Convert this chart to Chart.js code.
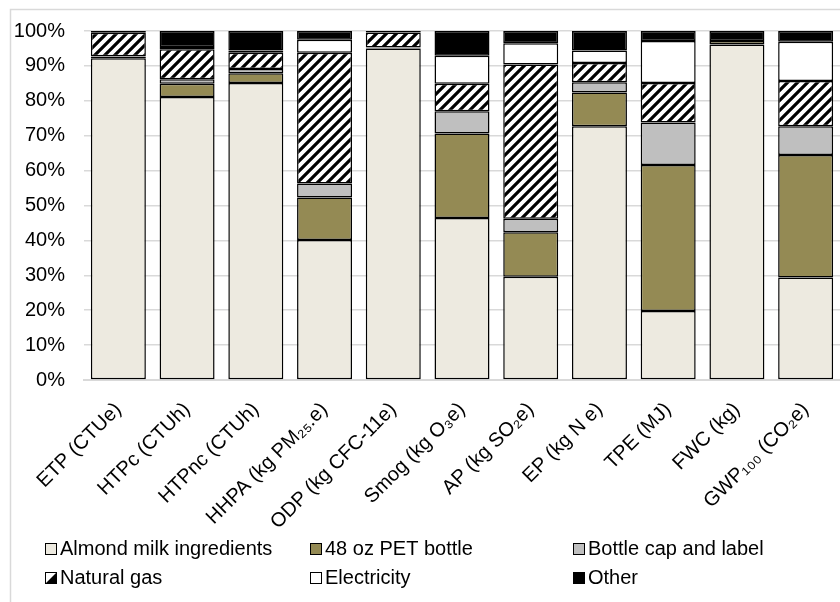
<!DOCTYPE html>
<html>
<head>
<meta charset="utf-8">
<script src="https://cdn.jsdelivr.net/npm/chart.js@4.4.1/dist/chart.umd.min.js"></script>
<style>
  html, body { margin: 0; padding: 0; background: #ffffff; }
  #wrap { width: 840px; height: 602px; position: relative; }
</style>
</head>
<body>
<div id="wrap"><canvas id="chart" width="840" height="602"></canvas></div>
<script>
// Impact categories (life-cycle indicators)
const categories = [
  'ETP (CTUe)', 'HTPc (CTUh)', 'HTPnc (CTUh)', 'HHPA (kg PM\u2082\u2085.e)',
  'ODP (kg CFC-11e)', 'Smog (kg O\u2083e)', 'AP (kg SO\u2082e)', 'EP (kg N e)',
  'TPE (MJ)', 'FWC (kg)', 'GWP\u2081\u2080\u2080 (CO\u2082e)'
];

// Share of each life-cycle stage, percent
const almondIngredients = [92.2, 81.1, 85.1, 40.1, 95.0, 46.4, 29.6, 72.7, 19.8, 96.1, 29.4];
const petBottle         = [ 0.4,  3.8,  2.8, 12.2,  0.2, 24.2, 12.7,  9.7, 41.8,  1.0, 35.1];
const capAndLabel       = [ 0.2,  1.3,  1.2,  4.0,  0.1,  6.4,  3.9,  2.9, 12.2,  0.0,  8.2];
const naturalGas        = [ 6.7,  8.6,  4.7, 37.5,  4.3,  7.9, 44.2,  5.5, 11.3,  0.0, 13.0];
const electricity       = [ 0.2,  0.6,  0.6,  3.7,  0.1,  8.0,  6.1,  3.6, 12.0,  0.0, 11.2];
const other             = [ 0.3,  4.6,  5.6,  2.5,  0.3,  7.1,  3.5,  5.6,  2.9,  2.9,  3.1];

const seriesNames = ['Almond milk ingredients', '48 oz PET bottle', 'Bottle cap and label',
                     'Natural gas', 'Electricity', 'Other'];

const yTicks = [0, 10, 20, 30, 40, 50, 60, 70, 80, 90, 100];

// Diagonal black/white hatch used for natural gas
function makeHatch() {
  const size = 10;
  const c = document.createElement('canvas');
  c.width = size; c.height = size;
  const g = c.getContext('2d');
  g.fillStyle = '#ffffff';
  g.fillRect(0, 0, size, size);
  g.strokeStyle = '#000000';
  g.lineWidth = 3.2;
  g.beginPath();
  g.moveTo(-2, size + 2); g.lineTo(size + 2, -2);
  g.moveTo(-2 - size, size + 2); g.lineTo(2, -2);
  g.moveTo(size - 2, size + 2); g.lineTo(2 * size + 2, -2);
  g.stroke();
  return g.createPattern(c, 'repeat');
}
const hatch = makeHatch();

const fills = ['#edeae0', '#948a54', '#bfbfbf', hatch, '#ffffff', '#000000'];
const values = [almondIngredients, petBottle, capAndLabel, naturalGas, electricity, other];

const FONT = '"Liberation Sans", Arial, "DejaVu Sans", sans-serif';

const datasets = values.map((d, i) => ({
  label: seriesNames[i],
  data: d,
  backgroundColor: fills[i],
  borderColor: '#000000',
  borderWidth: 1.5,
  borderSkipped: false,
  barPercentage: 0.8,
  categoryPercentage: 1.0
}));

// Outer frame and a three-column legend drawn below the axis labels
const decor = {
  id: 'decor',
  afterDraw(chart) {
    const ctx = chart.ctx;
    ctx.save();
    ctx.strokeStyle = '#d9d9d9';
    ctx.lineWidth = 1.5;
    ctx.strokeRect(10.5, 9.5, 900, 700);

    const cols = [45, 310, 573];
    const rows = [548, 577];
    ctx.font = '20px ' + FONT;
    ctx.textBaseline = 'middle';
    ctx.textAlign = 'left';
    chart.data.datasets.forEach((ds, i) => {
      const x = cols[i % 3];
      const y = rows[Math.floor(i / 3)];
      const s = 11;
      const bx = x + 0.5, by = Math.round(y - s / 2) + 0.5;
      if (ds.backgroundColor === hatch) {
        ctx.fillStyle = '#ffffff';
        ctx.fillRect(bx, by, s, s);
        ctx.fillStyle = '#000000';
        ctx.beginPath();
        ctx.moveTo(bx + s, by);
        ctx.lineTo(bx + s, by + s);
        ctx.lineTo(bx, by + s);
        ctx.closePath();
        ctx.fill();
      } else {
        ctx.fillStyle = ds.backgroundColor;
        ctx.fillRect(bx, by, s, s);
      }
      ctx.strokeStyle = '#000000';
      ctx.lineWidth = 1;
      ctx.strokeRect(bx, by, s, s);
      ctx.fillStyle = '#000000';
      ctx.fillText(ds.label, x + 15, y + 1);
    });
    ctx.restore();
  }
};

new Chart(document.getElementById('chart'), {
  type: 'bar',
  data: { labels: categories, datasets: datasets },
  plugins: [decor],
  options: {
    responsive: false,
    animation: false,
    devicePixelRatio: 1,
    layout: { padding: { top: 30, right: 0, bottom: 0, left: 0 } },
    plugins: { legend: { display: false }, tooltip: { enabled: false } },
    scales: {
      x: {
        stacked: true,
        grid: { display: false, drawTicks: false },
        border: { display: true, color: '#d9d9d9', width: 2 },
        ticks: {
          minRotation: 45, maxRotation: 45, autoSkip: false,
          padding: 18,
          color: '#000000',
          font: { family: FONT, size: 20 }
        },
        afterFit(scale) { scale.height = 222; scale.paddingLeft = 0; scale.paddingRight = 0; }
      },
      y: {
        stacked: true,
        min: 0, max: 100,
        afterBuildTicks(scale) { scale.ticks = yTicks.map(v => ({ value: v })); },
        grid: { color: '#d9d9d9', lineWidth: 1.5, drawTicks: false },
        border: { display: false },
        ticks: {
          padding: 19,
          color: '#000000',
          font: { family: FONT, size: 20 },
          callback: v => v + '%'
        },
        afterFit(scale) { scale.width = 84; }
      }
    }
  }
});
</script>
</body>
</html>
